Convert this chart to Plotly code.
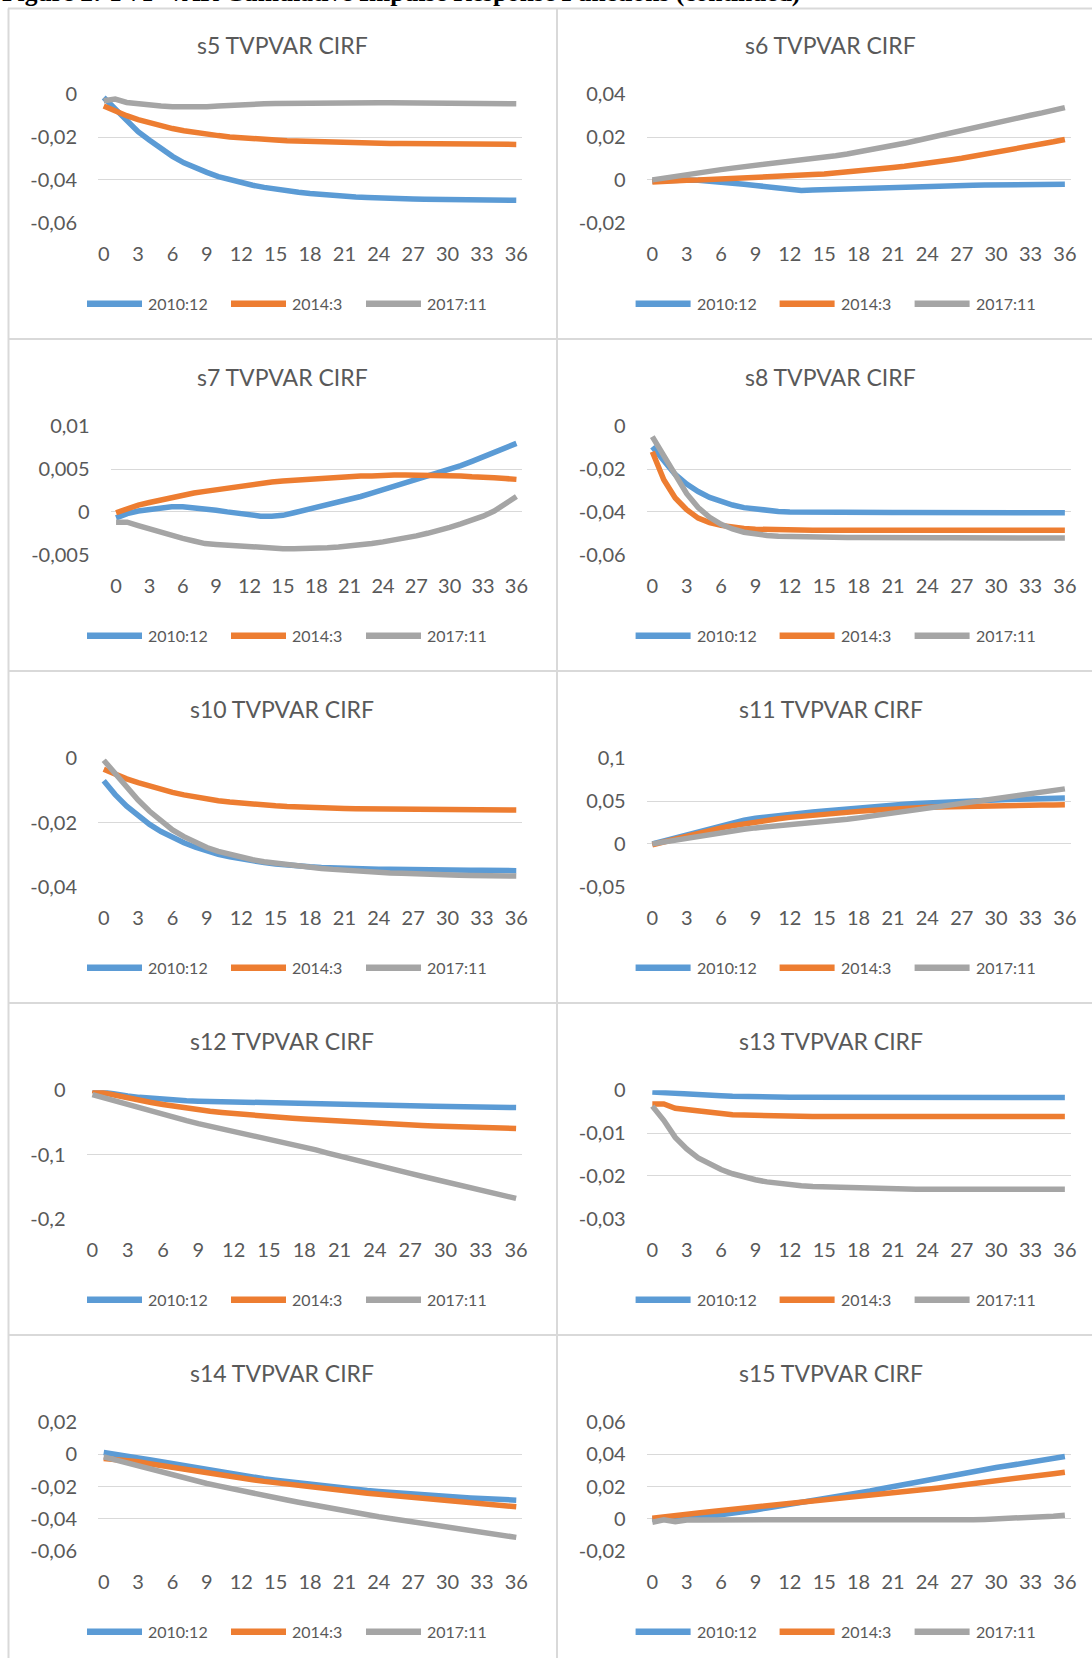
import plotly.graph_objects as go

# ---------------------------------------------------------------------------
# Cumulative impulse responses (TVP-VAR), horizons 0..36, three dates
# ---------------------------------------------------------------------------
horizons = list(range(37))
x_tick_vals = [0, 3, 6, 9, 12, 15, 18, 21, 24, 27, 30, 33, 36]
x_tick_text = ["0", "3", "6", "9", "12", "15", "18", "21", "24", "27", "30", "33", "36"]
series_names = ["2010:12", "2014:3", "2017:11"]

s5_2010_12 = [-0.0015, -0.0070, -0.0125, -0.0175, -0.0215, -0.0255, -0.0290, -0.0320, -0.0345, -0.0365,
              -0.0385, -0.0400, -0.0413, -0.0425, -0.0435, -0.0444, -0.0452, -0.0458, -0.0464, -0.0469,
              -0.0473, -0.0477, -0.0480, -0.0482, -0.0485, -0.0486, -0.0488, -0.0489, -0.0490, -0.0491,
              -0.0492, -0.0492, -0.0493, -0.0493, -0.0494, -0.0494, -0.0495]
s5_2014_3 = [-0.0055, -0.0080, -0.0100, -0.0118, -0.0134, -0.0148, -0.0160, -0.0170, -0.0179, -0.0187,
             -0.0193, -0.0199, -0.0204, -0.0208, -0.0211, -0.0214, -0.0217, -0.0219, -0.0221, -0.0223,
             -0.0225, -0.0226, -0.0227, -0.0228, -0.0229, -0.0230, -0.0230, -0.0231, -0.0231, -0.0232,
             -0.0232, -0.0232, -0.0233, -0.0233, -0.0233, -0.0234, -0.0234]
s5_2017_11 = [-0.0030, -0.0022, -0.0038, -0.0045, -0.0050, -0.0055, -0.0058, -0.0059, -0.0059, -0.0058,
              -0.0055, -0.0051, -0.0048, -0.0046, -0.0044, -0.0043, -0.0042, -0.0041, -0.0040, -0.0040,
              -0.0040, -0.0040, -0.0040, -0.0040, -0.0040, -0.0040, -0.0040, -0.0040, -0.0041, -0.0041,
              -0.0042, -0.0042, -0.0043, -0.0043, -0.0043, -0.0044, -0.0044]

s6_2010_12 = [-0.0006, -0.0003, -0.0001, 0.0000, -0.0002, -0.0005, -0.0009, -0.0014, -0.0020, -0.0026,
              -0.0032, -0.0038, -0.0044, -0.0049, -0.0047, -0.0045, -0.0043, -0.0042, -0.0040, -0.0039,
              -0.0038, -0.0036, -0.0035, -0.0033, -0.0031, -0.0030, -0.0028, -0.0027, -0.0025, -0.0024,
              -0.0023, -0.0022, -0.0022, -0.0021, -0.0021, -0.0021, -0.0020]
s6_2014_3 = [-0.0010, -0.0006, -0.0004, -0.0002, -0.0001, 0.0001, 0.0003, 0.0005, 0.0008, 0.0010,
             0.0013, 0.0016, 0.0019, 0.0022, 0.0025, 0.0028, 0.0032, 0.0037, 0.0042, 0.0047,
             0.0052, 0.0058, 0.0064, 0.0070, 0.0077, 0.0085, 0.0093, 0.0101, 0.0110, 0.0119,
             0.0129, 0.0139, 0.0148, 0.0158, 0.0168, 0.0178, 0.0189]
s6_2017_11 = [0.0000, 0.0009, 0.0018, 0.0027, 0.0034, 0.0041, 0.0048, 0.0055, 0.0061, 0.0066,
              0.0072, 0.0078, 0.0084, 0.0091, 0.0098, 0.0105, 0.0113, 0.0121, 0.0130, 0.0140,
              0.0150, 0.0160, 0.0171, 0.0183, 0.0195, 0.0209, 0.0222, 0.0236, 0.0248, 0.0260,
              0.0271, 0.0282, 0.0292, 0.0302, 0.0313, 0.0325, 0.0338]

s7_2010_12 = [-0.0007, -0.0002, 0.0001, 0.0003, 0.0005, 0.0006, 0.0006, 0.0005, 0.0003, 0.0002,
              0.0000, -0.0002, -0.0003, -0.0005, -0.0005, -0.0004, -0.0001, 0.0002, 0.0005, 0.0008,
              0.0011, 0.0014, 0.0018, 0.0022, 0.0026, 0.0029, 0.0033, 0.0037, 0.0041, 0.0045,
              0.0049, 0.0054, 0.0059, 0.0064, 0.0069, 0.0075, 0.0080]
s7_2014_3 = [-0.0001, 0.0004, 0.0008, 0.0011, 0.0014, 0.0017, 0.0020, 0.0022, 0.0024, 0.0026,
             0.0028, 0.0030, 0.0032, 0.0033, 0.0035, 0.0036, 0.0037, 0.0038, 0.0039, 0.0040,
             0.0041, 0.0041, 0.0042, 0.0042, 0.0043, 0.0043, 0.0043, 0.0043, 0.0043, 0.0042,
             0.0042, 0.0042, 0.0041, 0.0041, 0.0040, 0.0039, 0.0038]
s7_2017_11 = [-0.0012, -0.0012, -0.0016, -0.0020, -0.0024, -0.0028, -0.0031, -0.0034, -0.0037, -0.0038,
              -0.0039, -0.0040, -0.0041, -0.0042, -0.0042, -0.0043, -0.0043, -0.0043, -0.0042, -0.0042,
              -0.0041, -0.0040, -0.0039, -0.0037, -0.0035, -0.0033, -0.0031, -0.0028, -0.0025, -0.0022,
              -0.0018, -0.0014, -0.0010, -0.0005, 0.0001, 0.0009, 0.0018]

s8_2010_12 = [-0.0095, -0.0165, -0.0225, -0.0270, -0.0305, -0.0332, -0.0353, -0.0368, -0.0380, -0.0388,
              -0.0394, -0.0398, -0.0400, -0.0401, -0.0402, -0.0403, -0.0403, -0.0403, -0.0403, -0.0403,
              -0.0403, -0.0403, -0.0403, -0.0403, -0.0403, -0.0403, -0.0403, -0.0403, -0.0404, -0.0404,
              -0.0404, -0.0404, -0.0404, -0.0404, -0.0404, -0.0404, -0.0404]
s8_2014_3 = [-0.0119, -0.0250, -0.0335, -0.0390, -0.0429, -0.0450, -0.0463, -0.0472, -0.0478, -0.0481,
             -0.0483, -0.0484, -0.0485, -0.0485, -0.0486, -0.0486, -0.0486, -0.0486, -0.0486, -0.0486,
             -0.0486, -0.0486, -0.0486, -0.0486, -0.0486, -0.0486, -0.0486, -0.0486, -0.0486, -0.0486,
             -0.0486, -0.0486, -0.0486, -0.0486, -0.0486, -0.0486, -0.0486]
s8_2017_11 = [-0.0048, -0.0137, -0.0230, -0.0315, -0.0380, -0.0425, -0.0458, -0.0480, -0.0495, -0.0505,
              -0.0510, -0.0514, -0.0516, -0.0517, -0.0518, -0.0519, -0.0520, -0.0520, -0.0520, -0.0521,
              -0.0521, -0.0521, -0.0521, -0.0521, -0.0521, -0.0521, -0.0521, -0.0521, -0.0521, -0.0522,
              -0.0522, -0.0522, -0.0522, -0.0522, -0.0522, -0.0522, -0.0522]

s10_2010_12 = [-0.0070, -0.0113, -0.0149, -0.0180, -0.0206, -0.0228, -0.0247, -0.0263, -0.0277, -0.0289,
               -0.0299, -0.0307, -0.0314, -0.0320, -0.0325, -0.0329, -0.0333, -0.0336, -0.0338, -0.0340,
               -0.0342, -0.0343, -0.0344, -0.0345, -0.0346, -0.0346, -0.0347, -0.0347, -0.0348, -0.0348,
               -0.0348, -0.0349, -0.0349, -0.0349, -0.0350, -0.0350, -0.0350]
s10_2014_3 = [-0.0034, -0.0050, -0.0064, -0.0076, -0.0087, -0.0097, -0.0106, -0.0114, -0.0121, -0.0127,
              -0.0132, -0.0136, -0.0140, -0.0143, -0.0146, -0.0148, -0.0150, -0.0152, -0.0153, -0.0154,
              -0.0155, -0.0156, -0.0157, -0.0157, -0.0158, -0.0158, -0.0159, -0.0159, -0.0159, -0.0160,
              -0.0160, -0.0160, -0.0160, -0.0161, -0.0161, -0.0161, -0.0161]
s10_2017_11 = [-0.0006, -0.0048, -0.0090, -0.0130, -0.0165, -0.0196, -0.0223, -0.0244, -0.0262, -0.0278,
               -0.0290, -0.0300, -0.0309, -0.0316, -0.0322, -0.0327, -0.0332, -0.0336, -0.0340, -0.0343,
               -0.0346, -0.0349, -0.0351, -0.0353, -0.0355, -0.0357, -0.0358, -0.0360, -0.0361, -0.0362,
               -0.0363, -0.0364, -0.0365, -0.0366, -0.0366, -0.0367, -0.0367]

s11_2010_12 = [0.0000, 0.0035, 0.0073, 0.0110, 0.0148, 0.0188, 0.0223, 0.0252, 0.0278, 0.0300,
               0.0317, 0.0332, 0.0346, 0.0359, 0.0372, 0.0385, 0.0398, 0.0410, 0.0422, 0.0433,
               0.0443, 0.0453, 0.0462, 0.0471, 0.0479, 0.0486, 0.0493, 0.0499, 0.0505, 0.0510,
               0.0515, 0.0519, 0.0523, 0.0526, 0.0529, 0.0532, 0.0535]
s11_2014_3 = [-0.0010, 0.0025, 0.0060, 0.0092, 0.0126, 0.0158, 0.0187, 0.0212, 0.0235, 0.0256,
              0.0275, 0.0293, 0.0310, 0.0324, 0.0337, 0.0349, 0.0360, 0.0370, 0.0380, 0.0390,
              0.0400, 0.0409, 0.0416, 0.0422, 0.0427, 0.0432, 0.0436, 0.0439, 0.0442, 0.0444,
              0.0446, 0.0448, 0.0450, 0.0451, 0.0453, 0.0454, 0.0456]
s11_2017_11 = [0.0000, 0.0023, 0.0046, 0.0070, 0.0092, 0.0114, 0.0136, 0.0154, 0.0171, 0.0187,
               0.0198, 0.0208, 0.0218, 0.0231, 0.0244, 0.0257, 0.0272, 0.0288, 0.0304, 0.0323,
               0.0343, 0.0362, 0.0382, 0.0401, 0.0421, 0.0437, 0.0452, 0.0468, 0.0489, 0.0509,
               0.0530, 0.0549, 0.0569, 0.0588, 0.0606, 0.0624, 0.0643]

s12_2010_12 = [0.0000, -0.0035, -0.0065, -0.0090, -0.0110, -0.0128, -0.0142, -0.0153, -0.0162, -0.0169,
               -0.0174, -0.0178, -0.0182, -0.0185, -0.0189, -0.0193, -0.0197, -0.0201, -0.0205, -0.0209,
               -0.0213, -0.0217, -0.0221, -0.0225, -0.0229, -0.0233, -0.0237, -0.0241, -0.0244, -0.0247,
               -0.0250, -0.0253, -0.0256, -0.0259, -0.0262, -0.0265, -0.0268]
s12_2014_3 = [-0.0005, -0.0045, -0.0083, -0.0120, -0.0155, -0.0190, -0.0222, -0.0252, -0.0280, -0.0306,
              -0.0327, -0.0346, -0.0364, -0.0380, -0.0396, -0.0410, -0.0423, -0.0436, -0.0448, -0.0460,
              -0.0472, -0.0483, -0.0494, -0.0504, -0.0514, -0.0523, -0.0532, -0.0540, -0.0548, -0.0555,
              -0.0562, -0.0568, -0.0574, -0.0580, -0.0586, -0.0591, -0.0596]
s12_2017_11 = [-0.0067, -0.0120, -0.0172, -0.0223, -0.0275, -0.0327, -0.0378, -0.0426, -0.0472, -0.0518,
               -0.0558, -0.0597, -0.0637, -0.0680, -0.0724, -0.0767, -0.0805, -0.0843, -0.0881, -0.0929,
               -0.0978, -0.1026, -0.1073, -0.1119, -0.1166, -0.1209, -0.1252, -0.1295, -0.1338, -0.1381,
               -0.1425, -0.1465, -0.1504, -0.1544, -0.1591, -0.1637, -0.1684]

s13_2010_12 = [-0.0004, -0.0006, -0.0008, -0.0010, -0.0011, -0.0012, -0.0013, -0.0014, -0.0015, -0.0015,
               -0.0016, -0.0016, -0.0016, -0.0016, -0.0016, -0.0016, -0.0016, -0.0016, -0.0016, -0.0016,
               -0.0016, -0.0016, -0.0016, -0.0016, -0.0016, -0.0017, -0.0017, -0.0017, -0.0017, -0.0017,
               -0.0017, -0.0017, -0.0017, -0.0017, -0.0017, -0.0017, -0.0017]
s13_2014_3 = [-0.0032, -0.0032, -0.0042, -0.0045, -0.0050, -0.0053, -0.0055, -0.0057, -0.0058, -0.0059,
              -0.0060, -0.0060, -0.0061, -0.0061, -0.0061, -0.0061, -0.0061, -0.0061, -0.0061, -0.0061,
              -0.0061, -0.0061, -0.0061, -0.0061, -0.0061, -0.0061, -0.0061, -0.0061, -0.0061, -0.0061,
              -0.0061, -0.0061, -0.0061, -0.0061, -0.0061, -0.0061, -0.0061]
s13_2017_11 = [-0.0037, -0.0070, -0.0110, -0.0137, -0.0158, -0.0173, -0.0185, -0.0195, -0.0203, -0.0209,
               -0.0214, -0.0218, -0.0221, -0.0223, -0.0225, -0.0226, -0.0227, -0.0228, -0.0229, -0.0229,
               -0.0230, -0.0230, -0.0230, -0.0231, -0.0231, -0.0231, -0.0231, -0.0231, -0.0231, -0.0231,
               -0.0231, -0.0231, -0.0231, -0.0231, -0.0231, -0.0231, -0.0231]

s14_2010_12 = [0.0012, -0.0002, -0.0010, -0.0022, -0.0033, -0.0045, -0.0058, -0.0072, -0.0086, -0.0099,
               -0.0110, -0.0121, -0.0132, -0.0142, -0.0152, -0.0161, -0.0170, -0.0179, -0.0187, -0.0195,
               -0.0203, -0.0211, -0.0218, -0.0225, -0.0231, -0.0237, -0.0243, -0.0248, -0.0253, -0.0258,
               -0.0263, -0.0267, -0.0271, -0.0275, -0.0278, -0.0281, -0.0285]
s14_2014_3 = [-0.0025, -0.0030, -0.0037, -0.0046, -0.0058, -0.0070, -0.0081, -0.0092, -0.0103, -0.0114,
              -0.0125, -0.0137, -0.0148, -0.0158, -0.0168, -0.0177, -0.0186, -0.0194, -0.0202, -0.0210,
              -0.0218, -0.0226, -0.0234, -0.0242, -0.0249, -0.0256, -0.0263, -0.0270, -0.0277, -0.0283,
              -0.0289, -0.0295, -0.0302, -0.0308, -0.0314, -0.0320, -0.0326]
s14_2017_11 = [-0.0015, -0.0034, -0.0050, -0.0067, -0.0087, -0.0106, -0.0125, -0.0144, -0.0163, -0.0181,
               -0.0196, -0.0212, -0.0227, -0.0241, -0.0256, -0.0270, -0.0284, -0.0298, -0.0312, -0.0325,
               -0.0338, -0.0351, -0.0364, -0.0377, -0.0389, -0.0399, -0.0410, -0.0420, -0.0430, -0.0441,
               -0.0451, -0.0462, -0.0473, -0.0484, -0.0495, -0.0506, -0.0517]

s15_2010_12 = [-0.0004, -0.0002, 0.0000, 0.0002, 0.0008, 0.0015, 0.0023, 0.0033, 0.0043, 0.0054,
               0.0066, 0.0077, 0.0089, 0.0100, 0.0112, 0.0123, 0.0135, 0.0146, 0.0158, 0.0172,
               0.0186, 0.0200, 0.0214, 0.0227, 0.0241, 0.0255, 0.0269, 0.0283, 0.0295, 0.0306,
               0.0318, 0.0329, 0.0340, 0.0351, 0.0363, 0.0375, 0.0387]
s15_2014_3 = [0.0002, 0.0012, 0.0018, 0.0027, 0.0035, 0.0043, 0.0050, 0.0057, 0.0064, 0.0071,
              0.0079, 0.0088, 0.0096, 0.0103, 0.0110, 0.0116, 0.0123, 0.0130, 0.0137, 0.0144,
              0.0151, 0.0158, 0.0166, 0.0175, 0.0183, 0.0191, 0.0200, 0.0208, 0.0216, 0.0225,
              0.0233, 0.0242, 0.0252, 0.0262, 0.0271, 0.0280, 0.0289]
s15_2017_11 = [-0.0023, -0.0008, -0.0019, -0.0009, -0.0008, -0.0008, -0.0009, -0.0010, -0.0011, -0.0012,
               -0.0013, -0.0014, -0.0015, -0.0015, -0.0015, -0.0015, -0.0015, -0.0015, -0.0015, -0.0015,
               -0.0015, -0.0015, -0.0014, -0.0013, -0.0012, -0.0011, -0.0010, -0.0008, -0.0007, -0.0005,
               -0.0003, -0.0001, 0.0002, 0.0006, 0.0010, 0.0015, 0.0021]

# value-axis ticks for each panel (Excel-style comma decimals)
s5_yticks, s5_ylabels = [-0.06, -0.04, -0.02, 0], ["-0,06", "-0,04", "-0,02", "0"]
s6_yticks, s6_ylabels = [-0.02, 0, 0.02, 0.04], ["-0,02", "0", "0,02", "0,04"]
s7_yticks, s7_ylabels = [-0.005, 0, 0.005, 0.01], ["-0,005", "0", "0,005", "0,01"]
s8_yticks, s8_ylabels = [-0.06, -0.04, -0.02, 0], ["-0,06", "-0,04", "-0,02", "0"]
s10_yticks, s10_ylabels = [-0.04, -0.02, 0], ["-0,04", "-0,02", "0"]
s11_yticks, s11_ylabels = [-0.05, 0, 0.05, 0.1], ["-0,05", "0", "0,05", "0,1"]
s12_yticks, s12_ylabels = [-0.2, -0.1, 0], ["-0,2", "-0,1", "0"]
s13_yticks, s13_ylabels = [-0.03, -0.02, -0.01, 0], ["-0,03", "-0,02", "-0,01", "0"]
s14_yticks, s14_ylabels = [-0.06, -0.04, -0.02, 0, 0.02], ["-0,06", "-0,04", "-0,02", "0", "0,02"]
s15_yticks, s15_ylabels = [-0.02, 0, 0.02, 0.04, 0.06], ["-0,02", "0", "0,02", "0,04", "0,06"]

# ---------------------------------------------------------------------------
# Page geometry (pixels)
# ---------------------------------------------------------------------------
W, H = 1092, 1658
ROW_STEP = 332
PLOT_TOP0 = 94.3
PLOT_H = 128.4
COL_SHIFT = 548.6
COLORS = ["#5B9BD5", "#ED7D31", "#A5A5A5"]
TEXT = "#595959"
GRID = "#D9D9D9"
FONT = "Lato, 'Open Sans', sans-serif"

panels = [
    ("s5", 0, 0, (s5_2010_12, s5_2014_3, s5_2017_11), s5_yticks, s5_ylabels, 98),
    ("s6", 1, 0, (s6_2010_12, s6_2014_3, s6_2017_11), s6_yticks, s6_ylabels, 98),
    ("s7", 0, 1, (s7_2010_12, s7_2014_3, s7_2017_11), s7_yticks, s7_ylabels, 110.5),
    ("s8", 1, 1, (s8_2010_12, s8_2014_3, s8_2017_11), s8_yticks, s8_ylabels, 98),
    ("s10", 0, 2, (s10_2010_12, s10_2014_3, s10_2017_11), s10_yticks, s10_ylabels, 98),
    ("s11", 1, 2, (s11_2010_12, s11_2014_3, s11_2017_11), s11_yticks, s11_ylabels, 98),
    ("s12", 0, 3, (s12_2010_12, s12_2014_3, s12_2017_11), s12_yticks, s12_ylabels, 86.5),
    ("s13", 1, 3, (s13_2010_12, s13_2014_3, s13_2017_11), s13_yticks, s13_ylabels, 98),
    ("s14", 0, 4, (s14_2010_12, s14_2014_3, s14_2017_11), s14_yticks, s14_ylabels, 98),
    ("s15", 1, 4, (s15_2010_12, s15_2014_3, s15_2017_11), s15_yticks, s15_ylabels, 98),
]
PLOT_RIGHT = 522
TITLE_X = 282
# legend geometry (left column): (line start, line end, text start) per series
LEGEND = [(87, 142, 146), (231, 286, 290), (366, 421, 425)]


def px_x(x):
    return x / W


def px_y(y):
    return 1 - y / H


fig = go.Figure()
shapes = []
annotations = []
layout_axes = {}

for i, (name, col, row, data, yticks, ylabels, x0) in enumerate(panels):
    k = "" if i == 0 else str(i + 1)
    dx = COL_SHIFT * col
    top = PLOT_TOP0 + ROW_STEP * row
    bottom = top + PLOT_H

    for s, values in enumerate(data):
        fig.add_trace(go.Scatter(
            x=horizons, y=values, mode="lines", name=series_names[s],
            line=dict(color=COLORS[s], width=5.5),
            xaxis="x" + k, yaxis="y" + k, showlegend=False,
        ))

    layout_axes["xaxis" + k] = dict(
        domain=[px_x(x0 + dx), px_x(PLOT_RIGHT + dx)], range=[-0.5, 36.5], anchor="y" + k,
        tickmode="array", tickvals=x_tick_vals, ticktext=x_tick_text,
        showgrid=False, zeroline=False, showline=False, ticks="",
        ticklabelstandoff=17, automargin=False,
        tickfont=dict(family=FONT, size=20, color=TEXT), fixedrange=True,
    )
    layout_axes["yaxis" + k] = dict(
        domain=[px_y(bottom), px_y(top)], range=[yticks[0], yticks[-1]], anchor="x" + k,
        tickmode="array", tickvals=yticks, ticktext=ylabels,
        showgrid=True, gridcolor=GRID, gridwidth=1.3,
        zeroline=False, showline=False, ticks="",
        ticklabelstandoff=20, automargin=False,
        tickfont=dict(family=FONT, size=20, color=TEXT), fixedrange=True,
    )

    annotations.append(dict(
        text=f"{name} TVPVAR CIRF", x=px_x(TITLE_X + dx), y=px_y(top - 49),
        xref="paper", yref="paper", xanchor="center", yanchor="middle",
        showarrow=False, font=dict(family=FONT, size=23, color=TEXT),
    ))

    ly = top + 209.4
    for s, (lx0, lx1, tx) in enumerate(LEGEND):
        shapes.append(dict(
            type="line", xref="paper", yref="paper",
            x0=px_x(lx0 + dx), x1=px_x(lx1 + dx), y0=px_y(ly), y1=px_y(ly),
            line=dict(color=COLORS[s], width=6.5),
        ))
        annotations.append(dict(
            text=series_names[s], x=px_x(tx + dx), y=px_y(ly),
            xref="paper", yref="paper", xanchor="left", yanchor="middle",
            showarrow=False, font=dict(family=FONT, size=16, color=TEXT),
        ))

# chart frames
for y in [8.5, 339, 671, 1003, 1335]:
    shapes.append(dict(type="line", xref="paper", yref="paper",
                       x0=px_x(8), x1=1, y0=px_y(y), y1=px_y(y),
                       line=dict(color=GRID, width=2)))
for x in [8.5, 557]:
    shapes.append(dict(type="line", xref="paper", yref="paper",
                       x0=px_x(x), x1=px_x(x), y0=px_y(8.5), y1=0,
                       line=dict(color=GRID, width=2)))

# figure caption running off the top of the page
annotations.append(dict(
    text="<b>Figure 2: TVP-VAR Cumulative Impulse Response Functions (continued)</b>",
    x=0, y=px_y(-7), xref="paper", yref="paper", xanchor="left", yanchor="middle",
    showarrow=False, font=dict(family="Liberation Serif, 'Times New Roman', serif", size=25.5, color="#000000"),
))

fig.update_layout(
    width=W, height=H,
    margin=dict(l=0, r=0, t=0, b=0, pad=0, autoexpand=False),
    paper_bgcolor="white", plot_bgcolor="white",
    shapes=shapes, annotations=annotations, showlegend=False,
    **layout_axes,
)

fig.write_html(
    "out.html",
    config={"displayModeBar": False},
    post_script="document.body.style.margin='0px';document.body.style.padding='0px';",
)
